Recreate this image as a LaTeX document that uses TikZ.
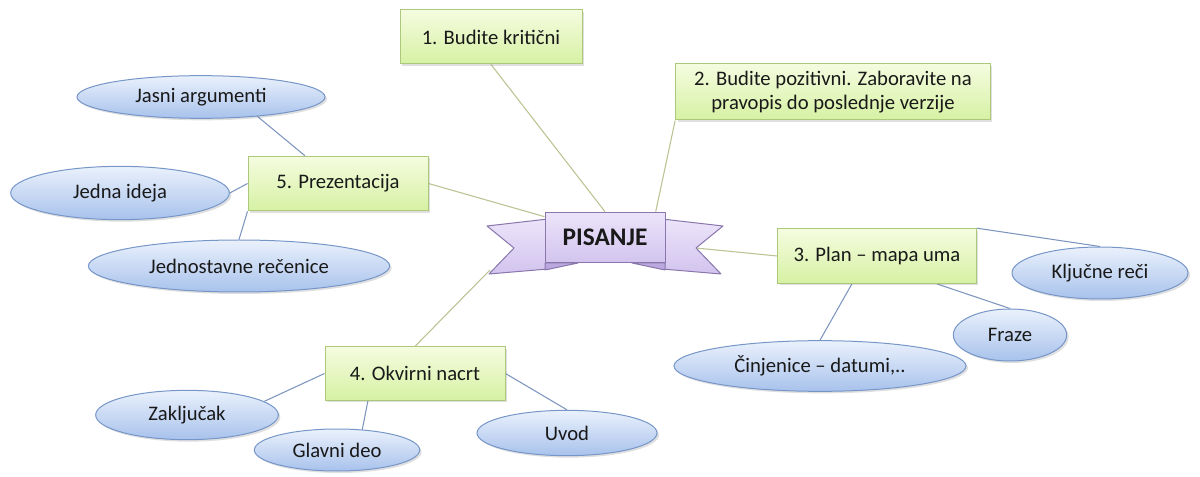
\documentclass[tikz,border=0pt]{standalone}
\usepackage{fontspec}
\setmainfont{Carlito}
\usepackage{xcolor}
\usepackage{tikz}
\usetikzlibrary{shapes.geometric,shadows,backgrounds}

\definecolor{boxtop}{RGB}{245,252,224}
\definecolor{boxbot}{RGB}{214,241,163}
\definecolor{boxline}{RGB}{172,200,122}
\definecolor{elltop}{RGB}{234,241,252}
\definecolor{ellbot}{RGB}{168,194,236}
\definecolor{ellline}{RGB}{118,150,200}
\definecolor{ribtop}{RGB}{236,228,250}
\definecolor{ribfill}{RGB}{210,196,238}
\definecolor{ribdark}{RGB}{186,168,222}
\definecolor{ribline}{RGB}{136,118,172}
\definecolor{hubline}{RGB}{188,194,146}
\definecolor{subline}{RGB}{126,150,190}
\definecolor{txt}{RGB}{25,25,25}

\tikzset{
  topic/.style={draw=boxline, line width=0.75pt, top color=boxtop, bottom color=boxbot,
    text=txt, align=center, inner sep=2pt,
    font=\fontsize{15.5}{18.5}\selectfont,
    drop shadow={opacity=0.25, shadow xshift=1.5pt, shadow yshift=-1.5pt}},
  idea/.style={ellipse, draw=ellline, line width=0.75pt, top color=elltop, bottom color=ellbot,
    text=txt, inner sep=0pt,
    font=\fontsize{15.5}{18.5}\selectfont,
    drop shadow={opacity=0.25, shadow xshift=1.5pt, shadow yshift=-1.5pt}},
  ribbon/.style={draw=ribline, line width=0.75pt, line join=round, top color=ribtop, bottom color=ribfill},
  hubedge/.style={draw=hubline, line width=0.8pt},
  subedge/.style={draw=subline, line width=0.8pt},
}

\begin{document}
\begin{tikzpicture}[x=0.75pt, y=-0.75pt]
    \useasboundingbox (0,0) rectangle (1200,477);

    % ribbon behind the title
    \path[ribbon] (548,219) -- (487,226) -- (514,248) -- (489,274) -- (548,269) -- cycle;
    \path[ribbon] (662,219) -- (723,226) -- (696,248) -- (721,274) -- (662,269) -- cycle;
    \filldraw[draw=ribline, fill=ribdark, line width=0.75pt, line join=round] (545,263) -- (578,263) -- (545,270) -- cycle;
    \filldraw[draw=ribline, fill=ribdark, line width=0.75pt, line join=round] (665,263) -- (632,263) -- (665,270) -- cycle;
    \node[ribbon, minimum width=90pt, minimum height=38pt, text=txt,
          font=\fontsize{19}{22}\selectfont\bfseries] (hub) at (605,237.5) {PISANJE};
    \coordinate (rnotch) at (696,248);
    \coordinate (lbot) at (490,270);

    % topics
    \node[topic, minimum width=136.5pt, minimum height=40.5pt] (kriticni) at (491,37) {1. Budite kritični};
    \node[topic, minimum width=236pt, minimum height=42pt] (pozitivni) at (833,92) {2. Budite pozitivni. Zaboravite na\\pravopis do poslednje verzije};
    \node[topic, minimum width=149pt, minimum height=41pt] (plan) at (877,256) {3. Plan -- mapa uma};
    \node[topic, minimum width=135pt, minimum height=40pt] (nacrt) at (415,373.5) {4. Okvirni nacrt};
    \node[topic, minimum width=135pt, minimum height=41pt] (prez) at (338,183.5) {5. Prezentacija};

    % ideas
    \node[idea, minimum width=186pt, minimum height=32pt] (jasni) at (201,97) {Jasni argumenti};
    \node[idea, minimum width=164pt, minimum height=40pt] (ideja) at (120,193) {Jedna ideja};
    \node[idea, minimum width=226pt, minimum height=39pt] (recenice) at (239,266) {Jednostavne rečenice};
    \node[idea, minimum width=132pt, minimum height=39pt] (kljucne) at (1100,273) {Ključne reči};
    \node[idea, minimum width=85pt, minimum height=39pt] (fraze) at (1010,335) {Fraze};
    \node[idea, minimum width=219pt, minimum height=38pt] (cinjenice) at (820,366) {Činjenice -- datumi,..};
    \node[idea, minimum width=137pt, minimum height=37pt] (zakljucak) at (187,415) {Zaključak};
    \node[idea, minimum width=124pt, minimum height=31.5pt] (glavni) at (337,450) {Glavni deo};
    \node[idea, minimum width=135pt, minimum height=34pt] (uvod) at (567,433) {Uvod};

    \begin{scope}[on background layer]
        \draw[hubedge] (kriticni.south) -- (hub.north);
        \draw[hubedge] (pozitivni.south west) -- (hub.27);
        \draw[hubedge] (prez.east) -- (hub.161);
        \draw[hubedge] (rnotch) -- (plan.west);
        \draw[hubedge] (lbot) -- (nacrt.north);

        \draw[subedge] (jasni.-19) -- (prez.140);
        \draw[subedge] (ideja.east) -- (prez.west);
        \draw[subedge] (recenice.north) -- (prez.south west);
        \draw[subedge] (plan.north east) -- (kljucne.north);
        \draw[subedge] (plan.-25) -- (fraze.north);
        \draw[subedge] (plan.-132) -- (cinjenice.north);
        \draw[subedge] (nacrt.west) -- (zakljucak.10);
        \draw[subedge] (nacrt.-150) -- (glavni.39);
        \draw[subedge] (nacrt.east) -- (uvod.north);
    \end{scope}
\end{tikzpicture}
\end{document}
